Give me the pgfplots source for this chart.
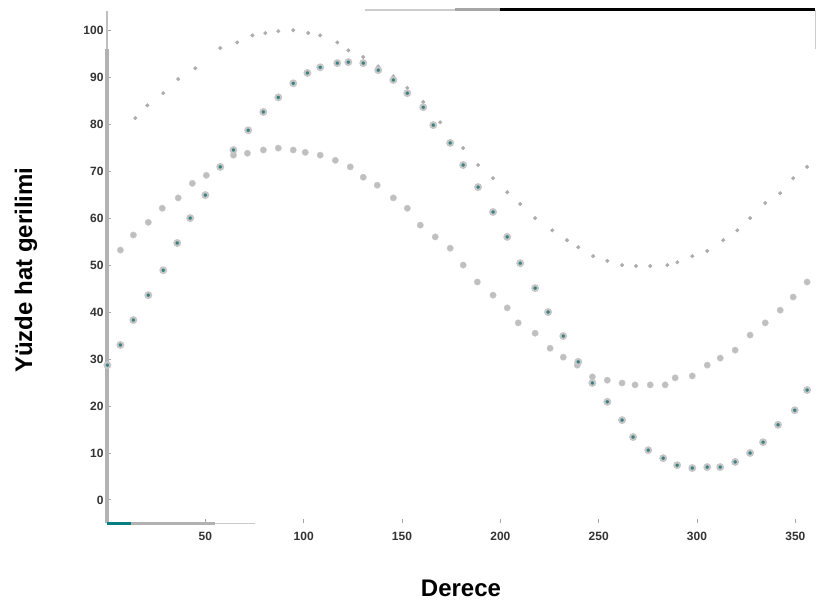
\documentclass[border=0pt]{standalone}
\usepackage{pgfplots}
\pgfplotsset{compat=1.18}
\usepackage{fontspec}
\setmainfont{Liberation Sans}

\begin{document}
\begin{tikzpicture}
\useasboundingbox (0,0) rectangle (818pt,605pt);
\begin{axis}[
  at={(107pt,82pt)}, anchor=south west,
  scale only axis, width=708pt, height=513pt,
  xmin=0, xmax=360, ymin=-4.9, ymax=104.3,
  axis line style={draw=none},
  clip=false,
  xtick={50,100,...,350}, ytick={0,10,...,100},
  xtick pos=left, ytick pos=left,
  tick align=inside, major tick length=4pt,
  tick style={gray!70, line width=1pt},
  /pgf/number format/assume math mode=true,
  ticklabel style={font=\bfseries\fontsize{12}{14}\selectfont, text=black!80},
  xticklabel style={yshift=-6pt},
  xlabel={Derece}, ylabel={Yüzde hat gerilimi},
  label style={font=\bfseries\fontsize{24}{28}\selectfont},
  xlabel style={at={(axis description cs:0.5,-0.1267)}, anchor=center},
  ylabel style={at={(axis description cs:-0.1144,0.493)}, anchor=center},
]
% kenar cizgileri
\draw[gray!60, line width=4pt] (axis cs:0,-4.9) -- (axis cs:0,96);
\draw[gray!50, line width=1.5pt] (axis cs:0,96) -- (axis cs:0,104);
\draw[gray!60, line width=3pt] (axis cs:0,-4.9) -- (axis cs:55,-4.9);
\draw[teal, line width=3pt] (axis cs:0,-4.9) -- (axis cs:12,-4.9);
\draw[gray!40, line width=1pt] (axis cs:55,-4.9) -- (axis cs:75,-4.9);
\draw[gray!40, line width=2pt] (axis cs:131,104.3) -- (axis cs:177,104.3);
\draw[gray!70, line width=3pt] (axis cs:177,104.3) -- (axis cs:200,104.3);
\draw[black, line width=3pt] (axis cs:200,104.3) -- (axis cs:360,104.3);
\draw[gray!40, line width=0.8pt] (axis cs:360,104.3) -- (axis cs:360,96);

% ust egri
\addplot[only marks, mark=*, mark size=1.8pt, color=gray!65] coordinates {
(14.4,81.3) (20.5,84.0) (28.6,86.6) (36.2,89.6) (44.9,91.9) (57.6,96.2)
(66.2,97.4) (73.9,98.9) (80.5,99.4) (87.1,99.8) (94.7,100.0) (102.3,99.4)
(108.4,98.9) (117.1,97.4) (122.7,95.7) (130.3,94.3) (137.9,92.3) (145.6,90.2)
(152.7,87.7) (160.8,84.7) (169.4,80.4) (181.1,74.9) (188.7,71.3) (196.3,68.5)
(203.5,65.5) (210.1,63.0) (217.7,60.0) (226.4,57.4) (233.9,55.3) (239.6,53.8)
(247.2,51.9) (254.4,50.9) (261.9,50.0) (269.0,49.8) (276.2,49.8) (284.9,50.0)
(290.0,50.6) (297.6,51.9) (305.2,53.0) (313.3,55.3) (320.5,57.4) (327.0,60.0)
(334.7,63.2) (342.3,65.3) (348.9,68.5) (356.0,70.9)
};

% orta egri
\addplot[only marks, mark=*, mark size=3.2pt, mark options={fill=gray!50, draw=gray!40}] coordinates {
(6.8,53.2) (13.4,56.4) (21.0,59.1) (28.1,62.1) (36.2,64.3) (43.4,67.4)
(50.5,69.1) (57.6,70.9) (64.3,73.4) (71.4,73.8) (79.5,74.5) (87.1,74.9)
(94.7,74.5) (100.8,74.0) (108.4,73.4) (116.1,72.3) (123.7,70.9) (130.3,68.7)
(137.4,67.0) (145.6,64.3) (152.7,62.1) (159.3,58.5) (166.9,56.0) (174.5,53.6)
(181.1,50.0) (188.3,46.4) (196.3,43.6) (203.5,40.9) (209.1,37.7) (217.7,35.5)
(225.3,32.3) (232.0,30.4) (239.1,28.7) (246.8,26.2) (254.4,25.5) (261.9,24.9)
(268.5,24.5) (276.2,24.5) (283.8,24.5) (288.9,26.0) (297.6,26.4) (305.2,28.7)
(311.8,30.2) (319.4,31.9) (327.0,35.1) (334.7,37.7) (342.3,40.4) (348.9,43.2)
(356.0,46.4)
};

% alt egri
\addplot[only marks, mark=*, mark size=2.9pt, mark options={fill=teal!55!gray, draw=gray!45, line width=2pt}] coordinates {
(0.2,28.7) (6.8,33.0) (13.4,38.3) (21.0,43.6) (28.6,48.9) (35.7,54.7)
(42.3,60.0) (50.0,64.9) (57.6,70.9) (64.3,74.5) (71.8,78.7) (79.5,82.6)
(87.1,85.7) (94.7,88.7) (101.9,90.9) (108.4,92.1) (117.1,93.0) (122.7,93.2)
(130.3,93.0) (137.9,91.5) (145.6,89.4) (152.7,86.6) (160.8,83.6) (165.9,79.8)
(174.5,76.0) (181.1,71.3) (188.7,66.6) (196.3,61.3) (203.5,56.0) (210.1,50.4)
(217.7,45.1) (224.3,40.0) (232.0,34.9) (239.6,29.4) (246.8,24.9) (254.4,20.9)
(261.9,17.0) (267.5,13.4) (275.2,10.6) (282.8,8.9) (289.9,7.4) (297.6,6.8)
(305.2,7.0) (311.8,7.0) (319.4,8.1) (327.0,10.0) (333.6,12.3) (341.2,16.0)
(349.7,19.1) (356.0,23.4)
};
\end{axis}
\end{tikzpicture}
\end{document}
